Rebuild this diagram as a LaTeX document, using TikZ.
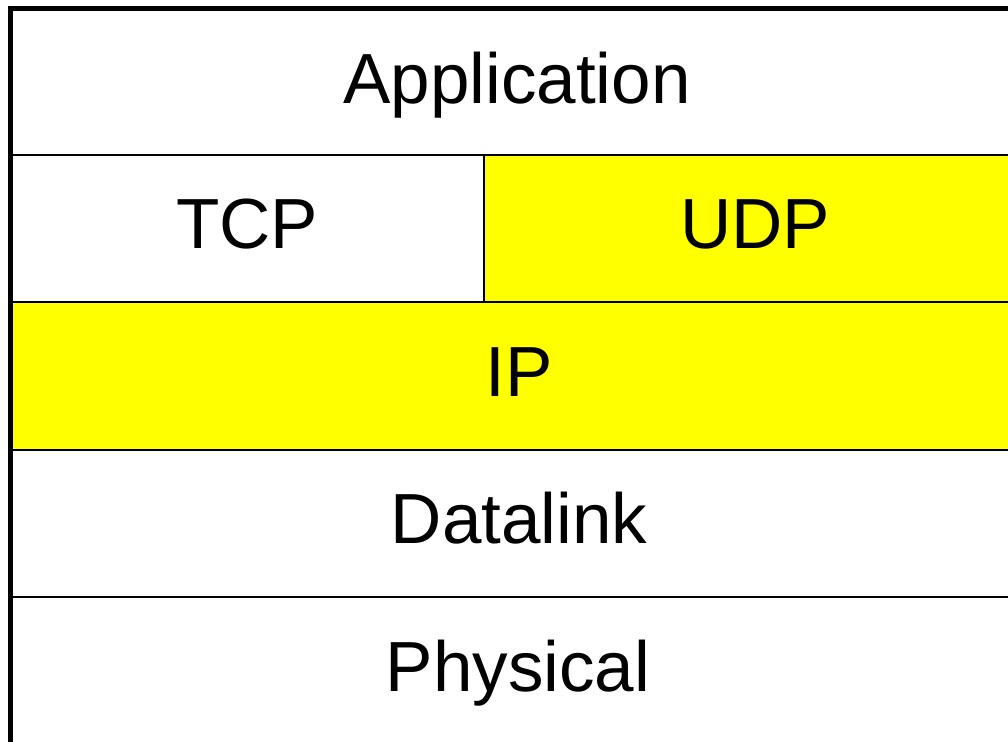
\documentclass[tikz,border=0pt]{standalone}
\usepackage{fontspec}
\setmainfont{Liberation Sans}
\definecolor{layeryellow}{RGB}{255,255,0}
\tikzset{
  lbl/.style={anchor=base, inner sep=0pt, font=\fontsize{71}{80}\selectfont},
  thin line/.style={line width=2.2pt, draw=black},
  thick line/.style={line width=5pt, draw=black},
}
\begin{document}
\begin{tikzpicture}[x=1pt,y=-1pt]
\useasboundingbox (0,0) rectangle (1008,741);
\clip (0,0) rectangle (1008,741);
\fill[white] (0,0) rectangle (1008,741);
% yellow fills
\fill[layeryellow] (484,155) rectangle (1030,302);
\fill[layeryellow] (10.5,302) rectangle (1030,450);
% coordinates
\coordinate (tl) at (10.5,8.5);
\coordinate (tr) at (1030,8.5);
\coordinate (bl) at (10.5,760);
\coordinate (l1) at (10.5,155); \coordinate (r1) at (1030,155);
\coordinate (l2) at (10.5,302); \coordinate (r2) at (1030,302);
\coordinate (l3) at (10.5,450); \coordinate (r3) at (1030,450);
\coordinate (l4) at (10.5,597); \coordinate (r4) at (1030,597);
\coordinate (dt) at (484,155); \coordinate (db) at (484,302);
% internal lines
\draw[thin line] (l1) -- (r1);
\draw[thin line] (l2) -- (r2);
\draw[thin line] (l3) -- (r3);
\draw[thin line] (l4) -- (r4);
\draw[thin line] (dt) -- (db);
% outer border
\draw[thick line] (bl) -- (tl) -- (tr);
% labels
\node[lbl] (app) at (517,103) {Application};
\node[lbl] (tcp) at (247,248) {TCP};
\node[lbl] (udp) at (755,248) {UDP};
\node[lbl] (ip) at (519,396) {IP};
\node[lbl] (dl) at (519,543) {Datalink};
\node[lbl] (ph) at (518,691) {Physical};
\end{tikzpicture}
\end{document}
